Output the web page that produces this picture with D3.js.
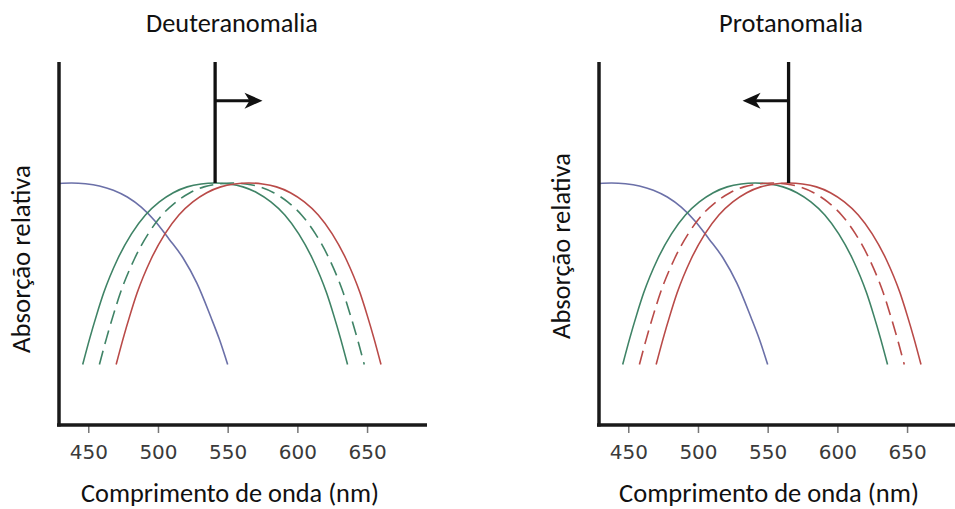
<!DOCTYPE html>
<html>
<head>
<meta charset="utf-8">
<script src="https://cdn.jsdelivr.net/npm/d3@7"></script>
<style>
  html, body { margin: 0; padding: 0; background: #fff; }
  svg { display: block; }
  .lbl { font-family: Carlito, Calibri, Lato, "Open Sans", sans-serif; fill: #111; }
  .tick text { font-family: "DejaVu Sans", sans-serif; fill: #3a3a3a; }
</style>
</head>
<body>
<svg id="chart" width="955" height="509"></svg>
<script>
// Wavelength axis ticks (nm)
const wavelengthTicks = [450, 500, 550, 600, 650];

// Relative absorption curves: [wavelength nm, relative absorption]
const sCone = [[429, 0.998], [438, 1.0], [448, 0.997], [458, 0.988], [468, 0.97], [478, 0.942],
  [488, 0.9], [498, 0.842], [508, 0.768], [518, 0.69], [528, 0.585], [538, 0.445], [544, 0.355], [550, 0.25]];
const mCone = [[446, 0.25], [451, 0.357], [456, 0.455], [461, 0.545], [471, 0.685], [481, 0.79],
  [491, 0.868], [501, 0.922], [511, 0.96], [521, 0.984], [531, 0.996], [541, 1.0], [551, 0.996],
  [561, 0.984], [571, 0.96], [581, 0.922], [591, 0.868], [601, 0.79], [611, 0.685], [621, 0.545],
  [626, 0.455], [631, 0.357], [636, 0.25]];
const anomalousCone = [[458, 0.25], [463, 0.357], [468, 0.455], [473, 0.545], [483, 0.685], [493, 0.79],
  [503, 0.868], [513, 0.922], [523, 0.96], [533, 0.984], [543, 0.996], [553, 1.0], [563, 0.996],
  [573, 0.984], [583, 0.96], [593, 0.922], [603, 0.868], [613, 0.79], [623, 0.685], [633, 0.545],
  [638, 0.455], [643, 0.357], [648, 0.25]];
const lCone = [[470, 0.25], [475, 0.357], [480, 0.455], [485, 0.545], [495, 0.685], [505, 0.79],
  [515, 0.868], [525, 0.922], [535, 0.96], [545, 0.984], [555, 0.996], [565, 1.0], [575, 0.996],
  [585, 0.984], [595, 0.96], [605, 0.922], [615, 0.868], [625, 0.79], [635, 0.685], [645, 0.545],
  [650, 0.455], [655, 0.357], [660, 0.25]];

// Panel titles, the peak each marker points at (nm), and where its arrow ends (nm)
const panelTitles = ["Deuteranomalia", "Protanomalia"];
const markerPeaks = [541, 565];
const arrowEnds = [575, 532];
const arrowLevel = 1.34;

const colors = { blue: "#6b70a8", green: "#3f8366", red: "#b94a48" };

const panels = [
  {
    title: panelTitles[0], dx: 0, marker: markerPeaks[0], arrowEnd: arrowEnds[0],
    titleX: 232, titleW: 172, xLabX: 230, xLabW: 298, yLabX: 30, yLabY: 259, yLabW: 188,
    series: [
      { data: sCone, color: colors.blue, dash: null },
      { data: mCone, color: colors.green, dash: null },
      { data: anomalousCone, color: colors.green, dash: "14,7" },
      { data: lCone, color: colors.red, dash: null }
    ]
  },
  {
    title: panelTitles[1], dx: 540, marker: markerPeaks[1], arrowEnd: arrowEnds[1],
    titleX: 791, titleW: 144, xLabX: 769, xLabW: 300, yLabX: 570, yLabY: 246, yLabW: 186,
    series: [
      { data: sCone, color: colors.blue, dash: null },
      { data: mCone, color: colors.green, dash: null },
      { data: anomalousCone, color: colors.red, dash: "14,7" },
      { data: lCone, color: colors.red, dash: null }
    ]
  }
];

const svg = d3.select("#chart");
const y = d3.scaleLinear().domain([0, 1.5]).range([425, 62]);

// Size a label so its natural width fills the given span
function fitText(sel, width) {
  const base = 23;
  sel.attr("font-size", base);
  const w = sel.node().getComputedTextLength();
  if (w > 0) sel.attr("font-size", base * width / w);
  return sel;
}

panels.forEach(p => {
  const x = d3.scaleLinear().domain([429, 693]).range([59 + p.dx, 427 + p.dx]);
  const g = svg.append("g");

  // Title
  fitText(g.append("text").attr("class", "lbl")
    .attr("x", p.titleX).attr("y", 31.5)
    .attr("text-anchor", "middle")
    .text(p.title), p.titleW);

  // Tick marks and labels
  const axis = d3.axisBottom(x).tickValues(wavelengthTicks)
    .tickSizeInner(8).tickSizeOuter(0).tickPadding(12);
  const ax = g.append("g").attr("transform", "translate(0,425)").call(axis);
  ax.select(".domain").remove();
  ax.selectAll(".tick line").attr("stroke", "#777").attr("stroke-width", 1.5);
  ax.selectAll(".tick text").attr("font-size", 20);

  // Curves
  const line = d3.line().x(d => x(d[0])).y(d => y(d[1])).curve(d3.curveMonotoneX);
  p.series.forEach(s => {
    g.append("path")
      .attr("d", line(s.data))
      .attr("fill", "none")
      .attr("stroke", s.color)
      .attr("stroke-width", 1.6)
      .attr("stroke-dasharray", s.dash);
  });

  // Axis lines
  g.append("line")
    .attr("x1", x(429)).attr("x2", x(429))
    .attr("y1", y(1.5)).attr("y2", y(0) + 1.5)
    .attr("stroke", "#1a1a1a").attr("stroke-width", 3.5);
  g.append("line")
    .attr("x1", x(429) - 2).attr("x2", x(693))
    .attr("y1", y(0)).attr("y2", y(0))
    .attr("stroke", "#1a1a1a").attr("stroke-width", 3.5);

  // Peak marker with shift arrow
  const mx = x(p.marker), ay = y(arrowLevel), tip = x(p.arrowEnd);
  const dir = Math.sign(tip - mx);
  g.append("line")
    .attr("x1", mx).attr("x2", mx)
    .attr("y1", y(1.5)).attr("y2", y(1.0))
    .attr("stroke", "#111").attr("stroke-width", 3.3);
  g.append("line")
    .attr("x1", mx).attr("x2", tip - dir * 12)
    .attr("y1", ay).attr("y2", ay)
    .attr("stroke", "#111").attr("stroke-width", 3);
  g.append("path")
    .attr("d", `M${tip},${ay} L${tip - dir * 18},${ay - 8} L${tip - dir * 13},${ay} L${tip - dir * 18},${ay + 8} Z`)
    .attr("fill", "#111");

  // Axis titles
  fitText(g.append("text").attr("class", "lbl")
    .attr("x", p.xLabX).attr("y", 502)
    .attr("text-anchor", "middle")
    .text("Comprimento de onda (nm)"), p.xLabW);
  fitText(g.append("text").attr("class", "lbl")
    .attr("transform", `translate(${p.yLabX},${p.yLabY}) rotate(-90)`)
    .attr("text-anchor", "middle")
    .text("Absorção relativa"), p.yLabW);
});
</script>
</body>
</html>
